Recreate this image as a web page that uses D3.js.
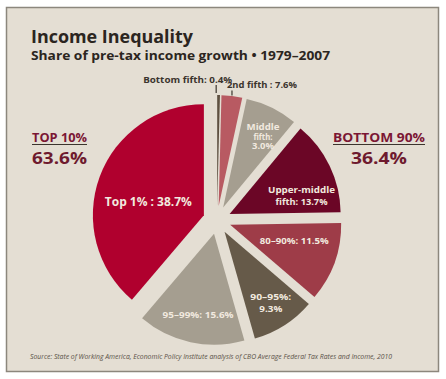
<!DOCTYPE html>
<html>
<head>
<meta charset="utf-8">
<script src="https://cdn.jsdelivr.net/npm/d3@7"></script>
<style>
  body { margin: 0; background: #ffffff; }
  svg text { font-family: "Open Sans", "DejaVu Sans", sans-serif; font-weight: 700; }
</style>
</head>
<body>
<div class="container"></div>
<script>
// slices in clockwise order from 12 o'clock
const groups = ["Bottom fifth", "2nd fifth", "Middle fifth", "Upper-middle fifth", "80–90%", "90–95%", "95–99%", "Top 1%"]
// slice sizes as drawn in the picture
const shares = [0.4, 3.0, 7.6, 13.7, 11.5, 9.3, 15.6, 38.7]
// label text as printed
const labelLines = [
    ["Bottom fifth: 0.4%"],
    ["2nd fifth : 7.6%"],
    ["Middle", "fifth:", "3.0%"],
    ["Upper-middle", "fifth: 13.7%"],
    ["80–90%: 11.5%"],
    ["90–95%:", "9.3%"],
    ["95–99%: 15.6%"],
    ["Top 1% : 38.7%"]
]
const totals = [
    {name: "TOP 10%", value: "63.6%"},
    {name: "BOTTOM 90%", value: "36.4%"}
]

const colors = ["#5e5040", "#b85a62", "#a59e90", "#6b0626", "#9e3c48", "#665a49", "#a59e90", "#b0002e"]

const w = 446
const h = 379
const cx = 217
const cy = 220
const R = 111
const pull = 14

const svg = d3.select(".container")
    .append("svg")
    .attr("width", w)
    .attr("height", h)

// panel
svg.append("rect")
    .attr("x", 6.5).attr("y", 7.5)
    .attr("width", 432).attr("height", 364)
    .attr("fill", "#e4ded3")
    .attr("stroke", "#8c877d")
    .attr("stroke-width", 1.5)

svg.append("text")
    .attr("x", 31).attr("y", 43)
    .attr("font-size", 18)
    .attr("fill", "#2b2520")
    .attr("textLength", 162).attr("lengthAdjust", "spacingAndGlyphs")
    .text("Income Inequality")

svg.append("text")
    .attr("x", 31).attr("y", 59.5)
    .attr("font-size", 12)
    .attr("fill", "#2b2520")
    .attr("textLength", 299).attr("lengthAdjust", "spacingAndGlyphs")
    .text("Share of pre-tax income growth • 1979–2007")

const pie = d3.pie().sort(null).value(d => d)
const arcs = pie(shares)
const arc = d3.arc().innerRadius(0).outerRadius(R)

const mid = d => (d.startAngle + d.endAngle) / 2

const g = svg.append("g").attr("transform", `translate(${cx},${cy})`)

g.selectAll("path")
    .data(arcs)
    .enter()
    .append("path")
    .attr("d", arc)
    .attr("fill", (d, i) => colors[i])
    .attr("transform", d => `translate(${pull * Math.sin(mid(d))},${-pull * Math.cos(mid(d))})`)

// labels inside slices: radius, angle nudge in degrees, font size, line height, width of each line
const inside = {
    2: {r: 95, nudge: 3, size: 8.5, lh: 9.5, widths: [33, 19, 22]},
    3: {r: 88, nudge: 9.4, size: 9.5, lh: 11.5, widths: [67, 52]},
    4: {r: 80, nudge: -5, size: 9.5, lh: 10, widths: [69]},
    5: {r: 99, nudge: -0.3, size: 8.5, lh: 12, widths: [41, 23]},
    6: {r: 96, nudge: -0.9, size: 9.5, lh: 10, widths: [71]},
    7: {r: 71, nudge: -5.5, size: 11.5, lh: 12, widths: [87]}
}

Object.keys(inside).forEach(k => {
    const i = +k
    const c = inside[k]
    const a = mid(arcs[i]) + c.nudge * Math.PI / 180
    const x = c.r * Math.sin(a)
    const y = -c.r * Math.cos(a)
    const lines = labelLines[i]
    const top = y - (lines.length - 1) * c.lh / 2 + c.size * 0.36
    g.append("text")
        .attr("text-anchor", "middle")
        .attr("font-size", c.size)
        .attr("fill", "#f1e9df")
        .selectAll("tspan")
        .data(lines)
        .enter()
        .append("tspan")
        .attr("x", x)
        .attr("y", (d, j) => top + j * c.lh)
        .attr("textLength", (d, j) => c.widths[j])
        .attr("lengthAdjust", "spacingAndGlyphs")
        .text(d => d)
})

// small slices get leader lines above the pie
const outside = [
    {i: 0, len: 8, gap: 2, dx: -73, width: 89},
    {i: 1, len: 5, gap: 0.5, dx: -5, width: 70}
]
outside.forEach(o => {
    const d = arcs[o.i]
    const a = o.i === 0 ? d.startAngle : mid(d)
    const px = pull * Math.sin(mid(d)) + (R + o.gap) * Math.sin(a) - (o.i === 0 ? 1 : 0)
    const py = -pull * Math.cos(mid(d)) - (R + o.gap) * Math.cos(a)
    g.append("line")
        .attr("x1", px).attr("x2", px)
        .attr("y1", py).attr("y2", py - o.len)
        .attr("stroke", "#3b342d")
        .attr("stroke-width", 1.2)
    g.append("text")
        .attr("x", px + o.dx)
        .attr("y", py - o.len - 2)
        .attr("font-size", 9)
        .attr("fill", "#3b342d")
        .attr("textLength", o.width).attr("lengthAdjust", "spacingAndGlyphs")
        .text(labelLines[o.i][0])
})

// group totals
const totalPos = [{x: 32, w1: 55, w2: 55}, {x: 333, w1: 92, w2: 56}]
totals.forEach((t, i) => {
    const p = totalPos[i]
    const c = p.x + p.w1 / 2
    svg.append("text")
        .attr("x", c).attr("y", 141.5)
        .attr("text-anchor", "middle")
        .attr("font-size", 12)
        .attr("fill", "#7b1634")
        .attr("textLength", p.w1).attr("lengthAdjust", "spacingAndGlyphs")
        .text(t.name)
    svg.append("line")
        .attr("x1", p.x).attr("x2", p.x + p.w1)
        .attr("y1", 144.5).attr("y2", 144.5)
        .attr("stroke", "#3b342d")
        .attr("stroke-width", 1.2)
    svg.append("text")
        .attr("x", c).attr("y", 163.5)
        .attr("text-anchor", "middle")
        .attr("font-size", 16.5)
        .attr("fill", "#6e1a2e")
        .attr("textLength", p.w2).attr("lengthAdjust", "spacingAndGlyphs")
        .text(t.value)
})

svg.append("text")
    .attr("x", 30).attr("y", 358.5)
    .attr("font-size", 6.5)
    .attr("font-style", "italic")
    .style("font-weight", 400)
    .attr("fill", "#5a5248")
    .attr("textLength", 362).attr("lengthAdjust", "spacingAndGlyphs")
    .text("Source: State of Working America, Economic Policy Institute analysis of CBO Average Federal Tax Rates and Income, 2010")
</script>
</body>
</html>
